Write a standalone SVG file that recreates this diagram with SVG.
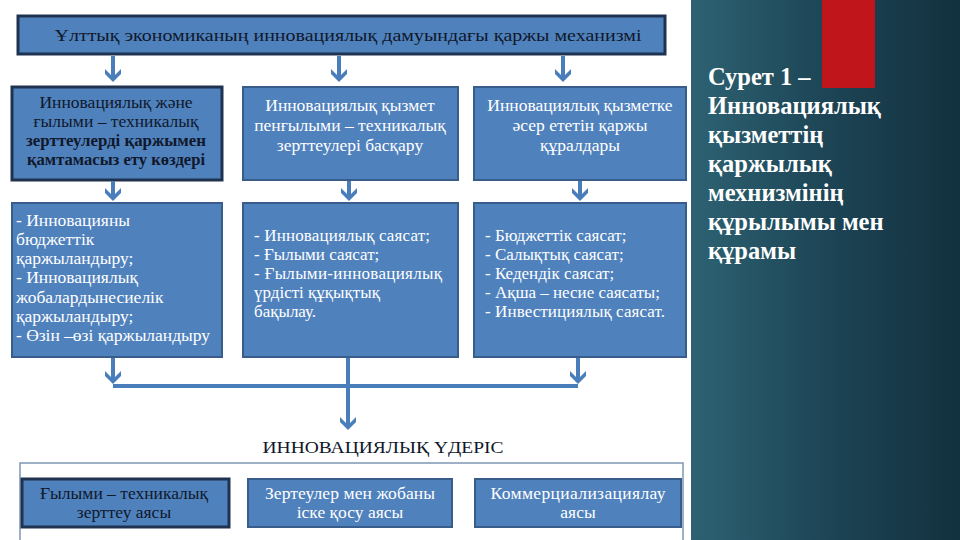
<svg xmlns="http://www.w3.org/2000/svg" width="960" height="540" viewBox="0 0 960 540">
<defs>
<linearGradient id="panel" x1="0" y1="0" x2="1" y2="0">
<stop offset="0" stop-color="#2d6272"/>
<stop offset="0.5" stop-color="#1d4556"/>
<stop offset="1" stop-color="#13313f"/>
</linearGradient>
<marker id="ah" viewBox="-14 -9 16 18" refX="-2" refY="0" markerWidth="16" markerHeight="18" orient="auto" markerUnits="userSpaceOnUse">
<path d="M-13,-8 L-8,-8 L0,0 L-8,8 L-13,8 L-5,0 Z" fill="#4a7ebb"/>
</marker>
</defs>
<style>
.box{fill:#4f81bd;stroke:#385d8a;stroke-width:2}
.dark{fill:#4f81bd;stroke:#1f3350;stroke-width:3}
.t{font-family:"Liberation Serif","Times New Roman",serif;font-size:17.5px}
.s{font-size:17px}
.w{fill:#ffffff}
.k{fill:#10182a}
.c{text-anchor:middle}
.conn{stroke:#4a7ebb;stroke-width:4;fill:none}
.side{font-family:"Liberation Serif","Times New Roman",serif;font-size:24.5px;font-weight:bold;fill:#ffffff}
</style>
<rect x="0" y="0" width="960" height="540" fill="#ffffff"/>
<rect x="691" y="0" width="269" height="540" fill="url(#panel)"/>
<rect x="822" y="0" width="53" height="88" fill="#c0151b"/>

<g id="top">
<rect class="dark" x="18" y="16" width="647" height="38"/>
<text class="t k c" x="348" y="41" font-size="19" textLength="587" lengthAdjust="spacingAndGlyphs">Ұлттық экономиканың инновациялық дамуындағы қаржы механизмі</text>
</g>

<g id="a">
<rect class="dark" x="12" y="87" width="210" height="93"/>
<text class="t k c" x="116" y="108">Инновациялық және</text>
<text class="t k c" x="116" y="127">ғылыми – техникалық</text>
<text class="t k c" x="116" y="146" font-weight="bold" textLength="180" lengthAdjust="spacingAndGlyphs">зерттеулерді қаржымен</text>
<text class="t k c" x="116" y="165" font-weight="bold" textLength="178" lengthAdjust="spacingAndGlyphs">қамтамасыз ету көздері</text>
</g>
<g id="b">
<rect class="box" x="243" y="87" width="215" height="93"/>
<text class="t w c" x="350" y="111">Инновациялық қызмет</text>
<text class="t w c" x="350" y="131">пенғылыми – техникалық</text>
<text class="t w c" x="350" y="151">зерттеулері басқару</text>
</g>
<g id="c">
<rect class="box" x="474" y="87" width="212" height="93"/>
<text class="t w c" x="580" y="111">Инновациялық қызметке</text>
<text class="t w c" x="580" y="131">әсер ететін қаржы</text>
<text class="t w c" x="580" y="151">құралдары</text>
</g>

<g id="d">
<rect class="box" x="12" y="203" width="210" height="154"/>
<text class="t w" x="16" y="226">- Инновацияны</text>
<text class="t w" x="16" y="245">бюджеттік</text>
<text class="t w" x="16" y="264">қаржыландыру;</text>
<text class="t w" x="16" y="283">- Инновациялық</text>
<text class="t w" x="16" y="303">жобалардынесиелік</text>
<text class="t w" x="16" y="322">қаржыландыру;</text>
<text class="t w" x="16" y="341" textLength="194">- Өзін –өзі қаржыландыру</text>
</g>
<g id="e">
<rect class="box" x="243" y="203" width="215" height="154"/>
<text class="t s w" x="254" y="241" textLength="176">- Инновациялық саясат;</text>
<text class="t s w" x="254" y="260">- Ғылыми саясат;</text>
<text class="t s w" x="254" y="279" textLength="188">- Ғылыми-инновациялық</text>
<text class="t s w" x="254" y="298">үрдісті құқықтық</text>
<text class="t s w" x="254" y="317">бақылау.</text>
</g>
<g id="f">
<rect class="box" x="474" y="203" width="212" height="154"/>
<text class="t s w" x="485" y="241">- Бюджеттік саясат;</text>
<text class="t s w" x="485" y="260">- Салықтық саясат;</text>
<text class="t s w" x="485" y="279">- Кедендік саясат;</text>
<text class="t s w" x="485" y="298" textLength="175">- Ақша – несие саясаты;</text>
<text class="t s w" x="485" y="317" textLength="180">- Инвестициялық саясат.</text>
</g>

<g id="connectors">
<line class="conn" x1="113" y1="56" x2="113" y2="80" marker-end="url(#ah)"/>
<line class="conn" x1="339" y1="56" x2="339" y2="80" marker-end="url(#ah)"/>
<line class="conn" x1="563" y1="56" x2="563" y2="80" marker-end="url(#ah)"/>
<line class="conn" x1="113" y1="181" x2="113" y2="199" marker-end="url(#ah)"/>
<line class="conn" x1="349" y1="181" x2="349" y2="199" marker-end="url(#ah)"/>
<line class="conn" x1="580" y1="181" x2="580" y2="199" marker-end="url(#ah)"/>
<line class="conn" x1="113" y1="358" x2="113" y2="382" marker-end="url(#ah)"/>
<line class="conn" x1="578" y1="358" x2="578" y2="382" marker-end="url(#ah)"/>
<line class="conn" x1="113" y1="386" x2="578" y2="386"/>
<line class="conn" x1="348" y1="358" x2="348" y2="428" marker-end="url(#ah)"/>
<path d="M233,498 L240,498 L240,495 L246,502 L240,509 L240,506 L233,506 Z" fill="#a9bfd6"/>
<path d="M459,498 L466,498 L466,495 L472,502 L466,509 L466,506 L459,506 Z" fill="#a9bfd6"/>
</g>

<text class="t k c" x="383" y="453" font-size="19" textLength="241" lengthAdjust="spacingAndGlyphs">ИННОВАЦИЯЛЫҚ ҮДЕРІС</text>

<g id="frame">
<rect x="20" y="463" width="663" height="90" fill="#ffffff" stroke="#7d96b3" stroke-width="1.5"/>
</g>
<g id="g">
<rect class="dark" x="22" y="479" width="207" height="48"/>
<text class="t k c" x="124" y="499">Ғылыми – техникалық</text>
<text class="t k c" x="124" y="518">зерттеу аясы</text>
</g>
<g id="h">
<rect class="box" x="248" y="479" width="204" height="48"/>
<text class="t w c" x="350" y="499" textLength="170">Зертеулер мен жобаны</text>
<text class="t w c" x="350" y="518">іске қосу аясы</text>
</g>
<g id="i">
<rect class="box" x="475" y="479" width="206" height="48"/>
<text class="t w c" x="578" y="499" textLength="175">Коммерциализациялау</text>
<text class="t w c" x="578" y="518">аясы</text>
</g>

<g id="caption">
<text class="side" x="708" y="85">Сурет 1 –</text>
<text class="side" x="708" y="114">Инновациялық</text>
<text class="side" x="708" y="143">қызметтің</text>
<text class="side" x="708" y="172">қаржылық</text>
<text class="side" x="708" y="201">мехнизмінің</text>
<text class="side" x="708" y="230">құрылымы мен</text>
<text class="side" x="708" y="259">құрамы</text>
</g>
</svg>
